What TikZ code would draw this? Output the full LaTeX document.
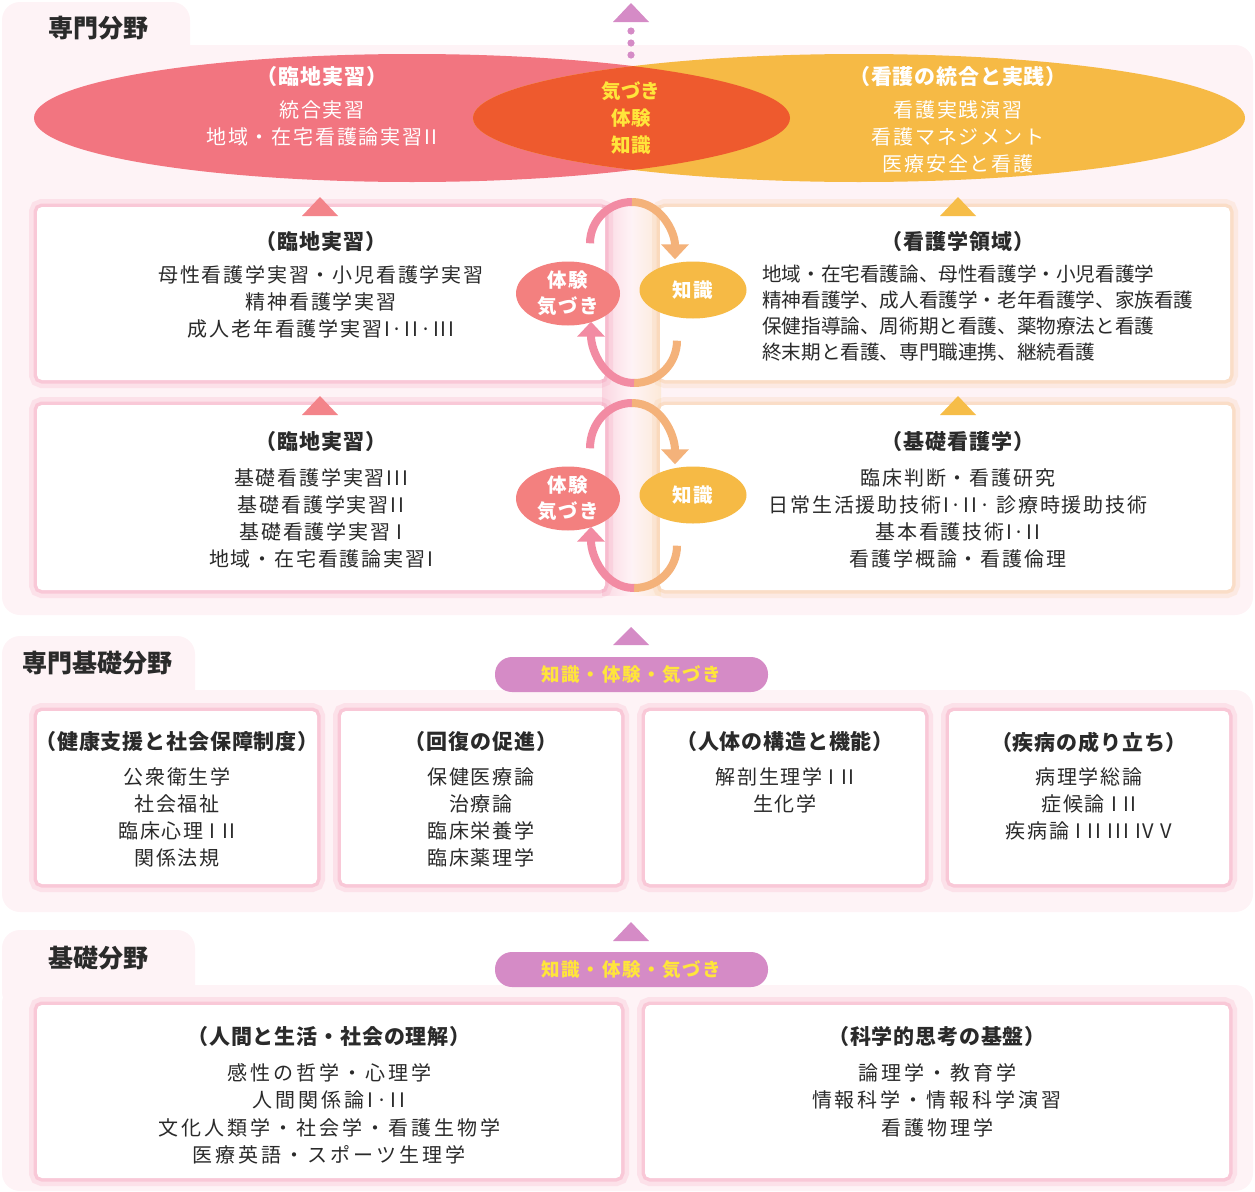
\documentclass[tikz,border=0pt]{standalone}
\usepackage{fontspec}
\setmainfont{Noto Sans CJK JP}
\newfontfamily\jpbody[LetterSpace=9]{Noto Sans CJK JP}
\newfontfamily\jpwide[LetterSpace=15]{Noto Sans CJK JP}
\newfontfamily\jptight{Noto Sans CJK JP}
\newfontfamily\jptitle[LetterSpace=4]{Noto Sans CJK JP}
\usetikzlibrary{shapes.geometric,arrows.meta}
\definecolor{panel}{HTML}{FEF3F6}
\definecolor{redell}{HTML}{F27580}
\definecolor{yelell}{HTML}{F6BA45}
\definecolor{ovl}{HTML}{EE5A2E}
\definecolor{yeltext}{HTML}{FFE53B}
\definecolor{tripink}{HTML}{F3848A}
\definecolor{triyel}{HTML}{F6BD48}
\definecolor{purp}{HTML}{D58BC6}
\definecolor{glowpink}{HTML}{F6A3BD}
\definecolor{glowpeach}{HTML}{F9CFA8}
\definecolor{arcpink}{HTML}{F28BA3}
\definecolor{arcorange}{HTML}{F4B27A}
\definecolor{textdark}{HTML}{2A2A2A}
\definecolor{minipink}{HTML}{F3807F}
\definecolor{miniyel}{HTML}{F6BA45}
\tikzset{
  gp/.style={preaction={draw=glowpink,draw opacity=0.22,line width=16pt},
             preaction={draw=glowpink,draw opacity=0.4,line width=7pt}},
  gy/.style={preaction={draw=glowpeach,draw opacity=0.25,line width=16pt},
             preaction={draw=glowpeach,draw opacity=0.45,line width=7pt}},
  boxw/.style={rectangle,rounded corners=5pt,fill=white,inner sep=0pt},
  ttl/.style={font=\jptitle\bfseries\fontsize{21}{24}\selectfont,text=textdark,inner sep=0pt},
  body/.style={font=\jpbody\fontsize{20}{27}\selectfont,text=textdark,align=center,inner sep=0pt},
  bodyw/.style={font=\jpwide\fontsize{20}{27.5}\selectfont,text=textdark,align=center,inner sep=0pt},
  bodyt/.style={font=\jptight\fontsize{19.6}{26}\selectfont,text=textdark,align=left,inner sep=0pt},
  wttl/.style={font=\jptitle\bfseries\fontsize{21}{24}\selectfont,text=white,inner sep=0pt},
  wbody/.style={font=\jpbody\fontsize{20}{27}\selectfont,text=white,align=center,inner sep=0pt},
  seclabel/.style={font=\bfseries\fontsize{25}{28}\selectfont,text=textdark,inner sep=0pt},
  mini/.style={ellipse,inner sep=0pt,font=\bfseries\jpbody\fontsize{19.5}{26}\selectfont,text=white,align=center},
  pill/.style={rectangle,rounded corners=17pt,fill=purp,minimum width=273pt,minimum height=35pt,
               inner sep=0pt,font=\bfseries\jpbody\fontsize{18.5}{22}\selectfont,text=yeltext},
  arcp/.style={draw=arcpink,line width=8pt},
  arco/.style={draw=arcorange,line width=8pt},
  tipo/.style={-{Triangle[width=27pt,length=15pt]}},
}
\begin{document}
\begin{tikzpicture}[x=1pt,y=1pt]
\useasboundingbox (0,0) rectangle (1255,-1191);
% ---------- panels
\fill[panel,rounded corners=18pt] (2,-2) rectangle (190,-80);
\fill[panel,rounded corners=18pt] (2,-45) rectangle (1253,-615);
\fill[panel,rounded corners=18pt] (2,-636) rectangle (195,-720);
\fill[panel,rounded corners=18pt] (2,-690) rectangle (1253,-912);
\fill[panel,rounded corners=18pt] (2,-930) rectangle (195,-1010);
\fill[panel,rounded corners=18pt] (2,-985) rectangle (1253,-1191);
% middle band
\shade[left color=glowpink!45,right color=glowpeach!45,middle color=panel] (602,-205) rectangle (661,-595);
% ---------- section labels
\node[seclabel] (sec1) at (98,-28) {専門分野};
\node[seclabel] (sec2) at (97,-663) {専門基礎分野};
\node[seclabel] (sec3) at (98,-958) {基礎分野};
% ---------- top arrow
\fill[purp] (613,-22) -- (631,-3) -- (649,-22) -- cycle;
\foreach \yy in {31,43,55} \fill[purp] (631,-\yy) circle (3.6);
% ---------- big ellipses
\node[ellipse,fill=redell,minimum width=756pt,minimum height=128pt,inner sep=0pt] (eL) at (412,-118) {};
\node[ellipse,fill=yelell,minimum width=772pt,minimum height=128pt,inner sep=0pt] (eR) at (859,-118) {};
\begin{scope}
  \clip (412,-118) ellipse [x radius=378, y radius=64];
  \fill[ovl] (859,-118) ellipse [x radius=386, y radius=64];
\end{scope}
\node[wttl] (eLt) at (322,-77) {（臨地実習）};
\node[wbody] (eLb) at (322,-123.5) {統合実習\\地域・在宅看護論実習II};
\node[wttl] (eRt) at (958,-77) {（看護の統合と実践）};
\node[wbody] (eRb) at (958,-137) {看護実践演習\\看護マネジメント\\医療安全と看護};
\node[font=\bfseries\fontsize{19.5}{27}\selectfont,text=yeltext,align=center,inner sep=0pt] (eC) at (631,-118) {気づき\\体験\\知識};
% ---------- row 1 / row 2 boxes
\node[boxw,gp,minimum width=568pt,minimum height=173pt] (r1l) at (321,-293.5) {};
\node[boxw,gy,minimum width=570pt,minimum height=173pt] (r1r) at (945,-293.5) {};
\node[boxw,gp,minimum width=568pt,minimum height=185pt] (r2l) at (321,-497.5) {};
\node[boxw,gy,minimum width=572pt,minimum height=185pt] (r2r) at (946,-497.5) {};
% triangles
\fill[tripink] (302,-216) -- (320,-197) -- (338,-216) -- cycle;
\fill[triyel] (940,-216) -- (958,-197) -- (976,-216) -- cycle;
\fill[tripink] (302,-415) -- (320,-396) -- (338,-415) -- cycle;
\fill[triyel] (940,-415) -- (958,-396) -- (976,-415) -- cycle;
% texts row 1
\node[ttl] (r1lt) at (321,-242) {（臨地実習）};
\node[body] (r1lb) at (321,-302) {母性看護学実習・小児看護学実習\\精神看護学実習\\成人老年看護学実習I·II·III};
\node[ttl] (r1rt) at (958,-242) {（看護学領域）};
\node[bodyt,anchor=west] (r1rb) at (762,-313.5) {地域・在宅看護論、母性看護学・小児看護学\\精神看護学、成人看護学・老年看護学、家族看護\\保健指導論、周術期と看護、薬物療法と看護\\終末期と看護、専門職連携、継続看護};
% texts row 2
\node[ttl] (r2lt) at (321,-442) {（臨地実習）};
\node[body] (r2lb) at (321,-518) {基礎看護学実習III\\基礎看護学実習II\\基礎看護学実習 I\\地域・在宅看護論実習I};
\node[ttl] (r2rt) at (958,-442) {（基礎看護学）};
\node[body] (r2rb) at (958,-518) {臨床判断・看護研究\\日常生活援助技術I·II· 診療時援助技術\\基本看護技術I·II\\看護学概論・看護倫理};
% ---------- cycles
\node[mini,fill=minipink,minimum width=104pt,minimum height=64pt] (p1) at (568,-293.5) {体験\\気づき};
\node[mini,fill=miniyel,minimum width=107pt,minimum height=57pt] (k1) at (693,-290) {知識};
\node[mini,fill=minipink,minimum width=104pt,minimum height=64pt] (p2) at (568,-498.5) {体験\\気づき};
\node[mini,fill=miniyel,minimum width=107pt,minimum height=57pt] (k2) at (693,-495) {知識};
\coordinate (t1) at (632,-202);
\coordinate (b1) at (634,-383);
\coordinate (t2) at (632,-403);
\coordinate (b2) at (634,-588);
\draw[arcp] ([xshift=22pt,yshift=18pt]p1.north) to[out=90,in=180] (t1);
\draw[arco,tipo] (t1) to[out=0,in=90] ([xshift=-18pt,yshift=2pt]k1.north);
\draw[arco] ([xshift=-16pt,yshift=-22pt]k1.south) to[out=-90,in=0] (b1);
\draw[arcp,tipo] (b1) to[out=180,in=-90] ([xshift=23pt,yshift=4pt]p1.south);
\draw[arcp] ([xshift=22pt,yshift=18pt]p2.north) to[out=90,in=180] (t2);
\draw[arco,tipo] (t2) to[out=0,in=90] ([xshift=-18pt,yshift=2pt]k2.north);
\draw[arco] ([xshift=-16pt,yshift=-22pt]k2.south) to[out=-90,in=0] (b2);
\draw[arcp,tipo] (b2) to[out=180,in=-90] ([xshift=23pt,yshift=4pt]p2.south);
% ---------- section 2
\fill[purp] (613,-645) -- (631,-627) -- (649,-645) -- cycle;
\node[pill] (pill2) at (631.5,-674.5) {知識・体験・気づき};
\node[boxw,gp,minimum width=280pt,minimum height=173pt] (s2a) at (177,-797.5) {};
\node[boxw,gp,minimum width=280pt,minimum height=173pt] (s2b) at (481,-797.5) {};
\node[boxw,gp,minimum width=280pt,minimum height=173pt] (s2c) at (785,-797.5) {};
\node[boxw,gp,minimum width=280pt,minimum height=173pt] (s2d) at (1089,-797.5) {};
\node[ttl] (s2at) at (177,-742) {（健康支援と社会保障制度）};
\node[body] (s2ab) at (177,-817.5) {公衆衛生学\\社会福祉\\臨床心理 I II\\関係法規};
\node[ttl] (s2bt) at (481,-742) {（回復の促進）};
\node[body] (s2bb) at (481,-817.5) {保健医療論\\治療論\\臨床栄養学\\臨床薬理学};
\node[ttl] (s2ct) at (785,-742) {（人体の構造と機能）};
\node[body] (s2cb) at (785,-790.5) {解剖生理学 I II\\生化学};
\node[ttl] (s2dt) at (1089,-742) {（疾病の成り立ち）};
\node[body] (s2db) at (1089,-804) {病理学総論\\症候論 I II\\疾病論 I II III IV V};
% ---------- section 3
\fill[purp] (613,-941) -- (631,-922) -- (649,-941) -- cycle;
\node[pill] (pill3) at (631.5,-969.5) {知識・体験・気づき};
\node[boxw,gp,minimum width=584pt,minimum height=173pt] (s3a) at (329,-1091.5) {};
\node[boxw,gp,minimum width=584pt,minimum height=173pt] (s3b) at (937,-1091.5) {};
\node[ttl] (s3at) at (329,-1037) {（人間と生活・社会の理解）};
\node[bodyw] (s3ab) at (329,-1114) {感性の哲学・心理学\\人間関係論I·II\\文化人類学・社会学・看護生物学\\医療英語・スポーツ生理学};
\node[ttl] (s3bt) at (937,-1037) {（科学的思考の基盤）};
\node[bodyw] (s3bb) at (937,-1100) {論理学・教育学\\情報科学・情報科学演習\\看護物理学};
\end{tikzpicture}
\end{document}
